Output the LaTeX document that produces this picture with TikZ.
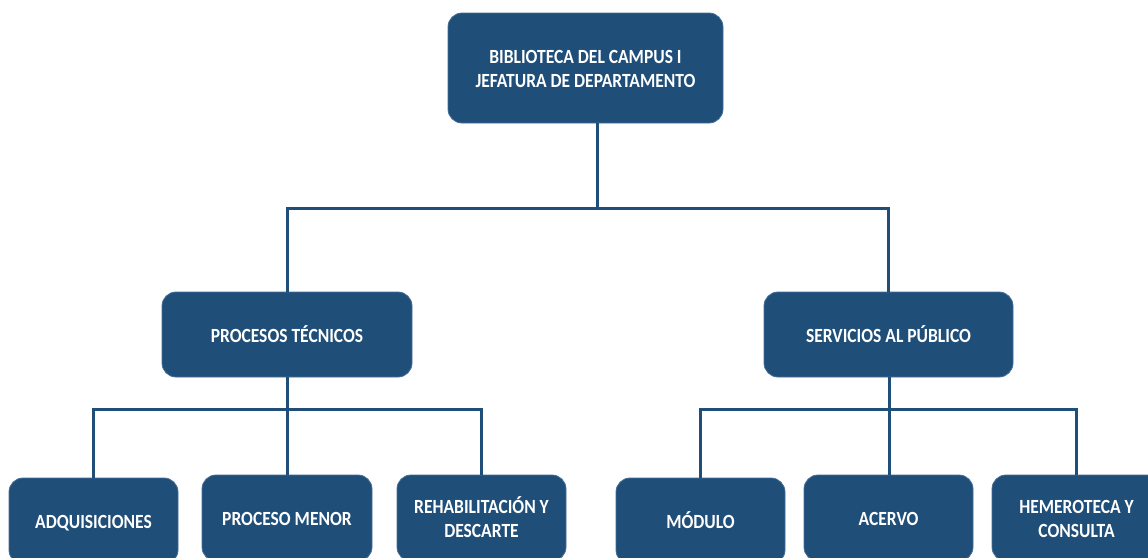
\documentclass[tikz,border=0pt]{standalone}
\usepackage{fontspec}
\usepackage{graphicx}
\setmainfont{Carlito}
\definecolor{boxblue}{RGB}{31,78,121}
\definecolor{edgeblue}{RGB}{70,110,150}
\newcommand{\boxtext}[1]{\raisebox{-2.7pt}[\height][\depth]{\scalebox{1}[1.15]{\begin{tabular}{@{}c@{}}#1\end{tabular}}}}
\begin{document}
\begin{tikzpicture}[x=1pt,y=-1pt,
  orgbox/.style={draw=edgeblue,line width=0.8pt,fill=boxblue,rounded corners=14pt,
    text=white,font=\bfseries\fontsize{17.5}{21.3}\selectfont,align=center,inner sep=0pt},
  conn/.style={draw=boxblue,line width=3pt}]
\useasboundingbox (0,0) rectangle (1148,557);
\node[orgbox,minimum width=275pt,minimum height=110pt] (top) at (585.5,68) {\boxtext{BIBLIOTECA DEL CAMPUS I\\JEFATURA DE DEPARTAMENTO}};
\node[orgbox,minimum width=250pt,minimum height=85pt] (pt) at (287,334.5) {\boxtext{PROCESOS TÉCNICOS}};
\node[orgbox,minimum width=249pt,minimum height=85pt] (sp) at (888.5,334.5) {\boxtext{SERVICIOS AL PÚBLICO}};
\node[orgbox,minimum width=169pt,minimum height=86pt] (adq) at (93.5,521) {\boxtext{ADQUISICIONES}};
\node[orgbox,minimum width=170pt,minimum height=86pt] (pm) at (287,518) {\boxtext{PROCESO MENOR}};
\node[orgbox,minimum width=169pt,minimum height=86pt] (reh) at (481.5,518) {\boxtext{REHABILITACIÓN Y\\DESCARTE}};
\node[orgbox,minimum width=169pt,minimum height=86pt] (mod) at (700.5,521) {\boxtext{MÓDULO}};
\node[orgbox,minimum width=169pt,minimum height=86pt] (ace) at (888.5,518) {\boxtext{ACERVO}};
\node[orgbox,minimum width=169pt,minimum height=86pt] (hem) at (1076.5,518) {\boxtext{HEMEROTECA Y\\CONSULTA}};
\coordinate (j1) at (597,208);
\coordinate (j2) at (287,409);
\coordinate (j3) at (889,409);
\draw[conn] (top.south -| j1) -- (j1);
\draw[conn] (pt.north) |- (j1) -| (sp.north);
\draw[conn] (pt.south) -- (j2);
\draw[conn] (adq.north) |- (j2) -| (reh.north);
\draw[conn] (j2) -- (pm.north);
\draw[conn] (sp.south -| j3) -- (j3);
\draw[conn] (mod.north) |- (j3) -| (hem.north);
\draw[conn] (j3) -- (ace.north -| j3);
\end{tikzpicture}
\end{document}
